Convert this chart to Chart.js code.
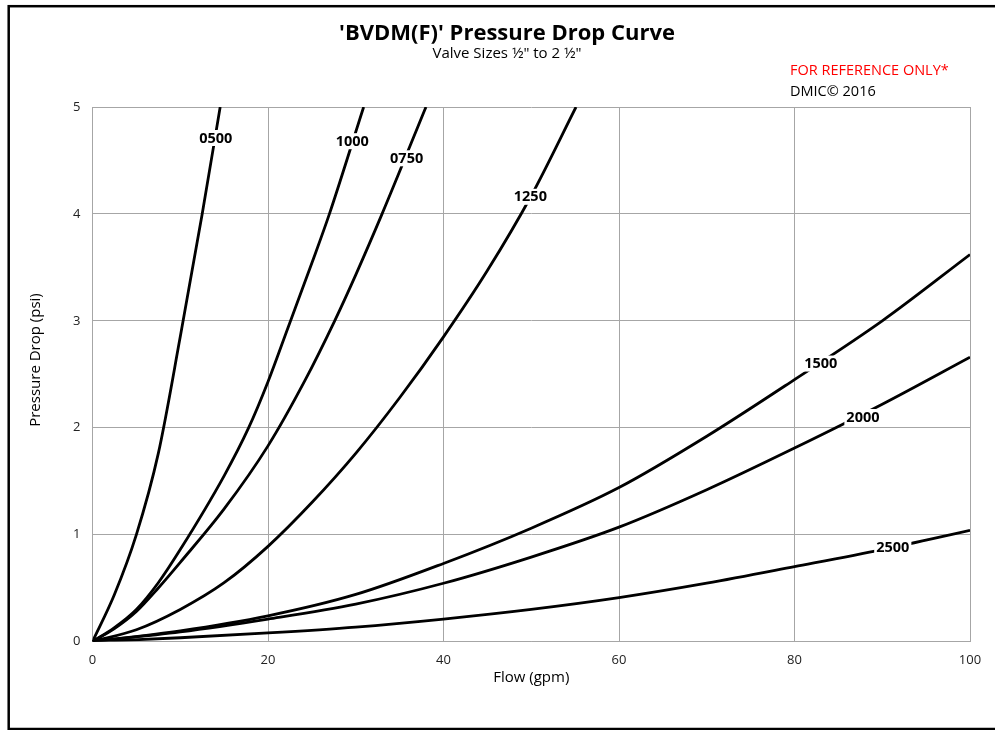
<!DOCTYPE html>
<html>
<head>
<meta charset="utf-8">
<script src="https://cdn.jsdelivr.net/npm/chart.js@4.4.0/dist/chart.umd.min.js"></script>
<style>
html,body{margin:0;padding:0;background:#fff;overflow:hidden}
canvas{display:block}
</style>
</head>
<body>
<canvas id="chart" width="995" height="730"></canvas>
<script>
// BVDM(F) pressure drop curves
// flow in gpm, pressure drop in psi
const flow0500 = [0, 2.5, 5, 7.5, 10, 12.5, 14.55];
const psi0500  = [0, 0.44, 1, 1.76, 2.85, 4, 5];

const flow1000 = [0, 2.5, 5, 7.5, 10, 15, 17.8, 20, 22.3, 25, 27, 30.9];
const psi1000  = [0, 0.13, 0.3, 0.55, 0.86, 1.55, 2, 2.43, 2.94, 3.54, 4, 5];

const flow0750 = [0, 2.5, 5, 7.5, 10, 15, 20, 24.2, 27.6, 30, 33, 38];
const psi0750  = [0, 0.12, 0.28, 0.5, 0.74, 1.24, 1.83, 2.44, 3, 3.43, 4, 5];

const flow1250 = [0, 5, 10, 15, 20, 25, 30, 35, 40, 45, 50, 55.1];
const psi1250  = [0, 0.11, 0.3, 0.55, 0.89, 1.3, 1.76, 2.28, 2.85, 3.47, 4.17, 5];

const flowLow  = [0, 10, 20, 30, 40, 50, 60, 70, 80, 90, 100];
const psi1500  = [0, 0.1, 0.24, 0.44, 0.73, 1.06, 1.44, 1.92, 2.45, 3.0, 3.62];
const psi2000  = [0, 0.09, 0.21, 0.35, 0.545, 0.79, 1.07, 1.42, 1.81, 2.22, 2.66];
const psi2500  = [0, 0.035, 0.08, 0.135, 0.21, 0.3, 0.41, 0.545, 0.7, 0.86, 1.04];

const sizes = ['0500', '1000', '0750', '1250', '1500', '2000', '2500'];
const flows = [flow0500, flow1000, flow0750, flow1250, flowLow, flowLow, flowLow];
const drops = [psi0500, psi1000, psi0750, psi1250, psi1500, psi2000, psi2500];

// where each size label sits on its curve (flow, psi)
const labelFlow = [14.05, 29.6, 35.8, 49.9, 83.0, 87.8, 91.2];
const labelPsi  = [4.71, 4.68, 4.52, 4.16, 2.6, 2.1, 0.876];

const FONT = '"Open Sans", Lato, sans-serif';
const GRID = '#a6a6a6';

const pts = (xs, ys) => xs.map((x, i) => ({x, y: ys[i]}));

const decor = {
  id: 'decor',
  beforeDraw(chart){
    const c = chart.ctx;
    c.save();
    c.fillStyle = '#fff';
    c.fillRect(0, 0, chart.width, chart.height);
    c.restore();
  },
  afterDatasetsDraw(chart){
    const c = chart.ctx, xs = chart.scales.x, ys = chart.scales.y;
    c.save();
    c.font = 'bold 14.5px ' + FONT;
    c.textAlign = 'center';
    c.textBaseline = 'middle';
    sizes.forEach((s, i) => {
      const px = xs.getPixelForValue(labelFlow[i]);
      const py = ys.getPixelForValue(labelPsi[i]);
      const w = c.measureText(s).width + 4;
      c.fillStyle = '#fff';
      c.fillRect(px - w/2, py - 8, w, 16);
      c.fillStyle = '#000';
      c.fillText(s, px, py + 0.5);
    });
    c.restore();
  },
  afterDraw(chart){
    const c = chart.ctx, a = chart.chartArea;
    c.save();
    // outer frame
    c.strokeStyle = '#000';
    c.lineWidth = 2.5;
    c.strokeRect(8.7, 6.2, 1100, 722.8);

    c.fillStyle = '#000';
    c.textAlign = 'center';
    c.textBaseline = 'alphabetic';
    c.font = 'bold 22px ' + FONT;
    c.fillText("'BVDM(F)' Pressure Drop Curve", 507, 40);
    c.font = '15px ' + FONT;
    c.fillText('Valve Sizes \u00bd" to 2 \u00bd"', 507, 58);

    c.textAlign = 'left';
    c.font = '14.5px ' + FONT;
    c.fillStyle = '#ff0000';
    c.fillText('FOR REFERENCE ONLY*', 790, 75);
    c.fillStyle = '#000';
    c.fillText('DMIC\u00a9 2016', 790, 96);

    // axis titles
    c.textAlign = 'center';
    c.font = '15px ' + FONT;
    c.fillText('Flow (gpm)', (a.left + a.right) / 2, 682);
    c.translate(40, 360);
    c.rotate(-Math.PI / 2);
    c.fillText('Pressure Drop (psi)', 0, 0);
    c.restore();
  }
};

new Chart(document.getElementById('chart'), {
  type: 'scatter',
  data: {
    datasets: sizes.map((s, i) => ({
      label: s,
      data: pts(flows[i], drops[i]),
      showLine: true,
      borderColor: '#000',
      borderWidth: 2.8,
      pointRadius: 0,
      cubicInterpolationMode: 'monotone'
    }))
  },
  options: {
    responsive: false,
    animation: false,
    layout: {padding: {left: 0, right: 25, top: 107, bottom: 0}},
    plugins: {legend: {display: false}, tooltip: {enabled: false}},
    scales: {
      x: {
        type: 'linear', min: 0, max: 100,
        afterFit(scale){ scale.height = 88.5; },
        ticks: {stepSize: 20, padding: 11, color: '#222', font: {family: FONT, size: 13}},
        grid: {color: GRID, lineWidth: 1, drawTicks: false},
        border: {display: true, color: GRID}
      },
      y: {
        type: 'linear', min: 0, max: 5,
        afterFit(scale){ scale.width = 92.5; },
        ticks: {stepSize: 1, padding: 12, color: '#222', font: {family: FONT, size: 13}},
        grid: {color: GRID, lineWidth: 1, drawTicks: false},
        border: {display: true, color: GRID}
      }
    }
  },
  plugins: [decor]
});
</script>
</body>
</html>
